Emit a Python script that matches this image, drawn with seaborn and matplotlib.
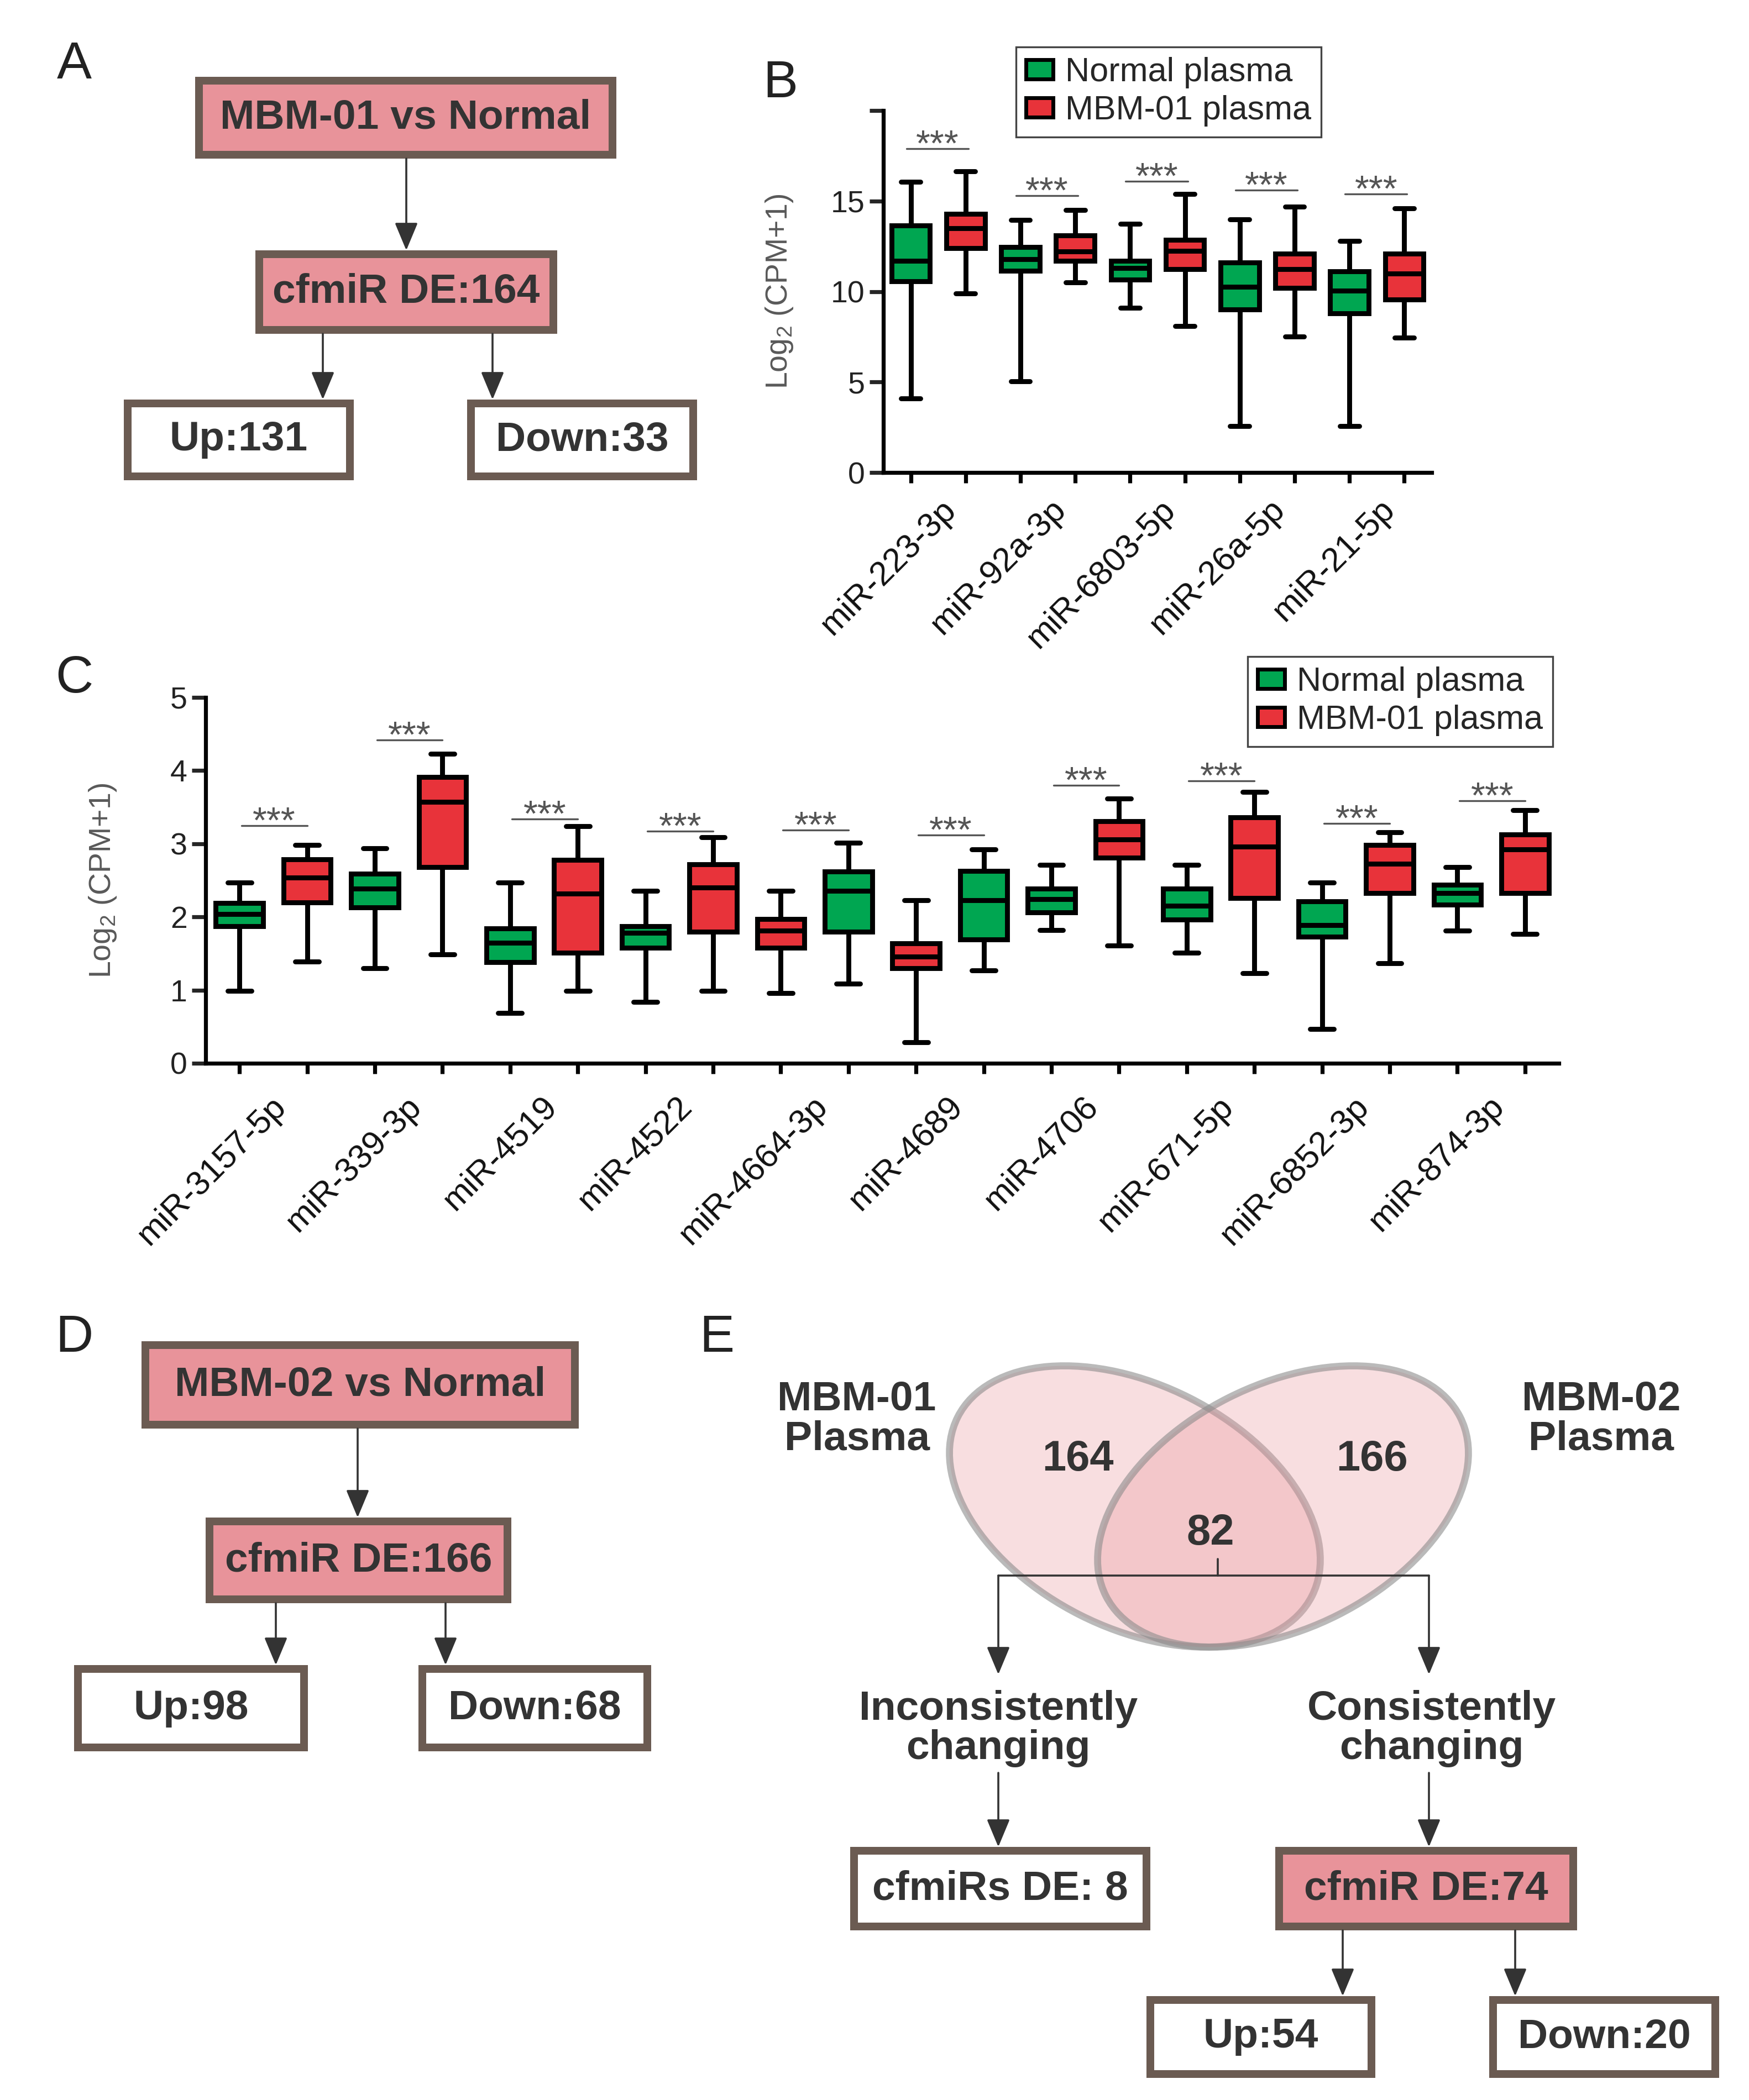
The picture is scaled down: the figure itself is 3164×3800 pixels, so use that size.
import numpy as np
import pandas as pd
import matplotlib
matplotlib.use("Agg")
import matplotlib.pyplot as plt
import seaborn as sns
from matplotlib.patches import Rectangle, Ellipse, Patch

# --- Data ---
GROUPS = ["Normal plasma", "MBM-01 plasma"]
PALETTE = {"Normal plasma": "#00A651", "MBM-01 plasma": "#E8333A"}

# Panel B : five-number summaries, box order = (Normal, MBM-01) per miRNA
b_mirs = ["miR-223-3p", "miR-92a-3p", "miR-6803-5p", "miR-26a-5p", "miR-21-5p"]
b_group = ["Normal plasma", "MBM-01 plasma"] * 5
b_low = [4.1, 9.9, 5.05, 10.5, 9.1, 8.1, 2.55, 7.5, 2.55, 7.45]
b_q1 = [10.55, 12.4, 11.15, 11.7, 10.65, 11.25, 9.0, 10.2, 8.8, 9.55]
b_med = [11.7, 13.5, 11.8, 12.2, 11.3, 12.25, 10.25, 11.25, 10.05, 11.0]
b_q3 = [13.65, 14.3, 12.45, 13.1, 11.7, 12.85, 11.6, 12.1, 11.1, 12.1]
b_high = [16.05, 16.65, 13.95, 14.5, 13.75, 15.4, 14.0, 14.7, 12.8, 14.6]
b_sig = [17.9, 15.3, 16.1, 15.6, 15.4]

# Panel C
c_mirs = ["miR-3157-5p", "miR-339-3p", "miR-4519", "miR-4522", "miR-4664-3p",
          "miR-4689", "miR-4706", "miR-671-5p", "miR-6852-3p", "miR-874-3p"]
c_group = (["Normal plasma", "MBM-01 plasma"] * 4
           + ["MBM-01 plasma", "Normal plasma"] * 2
           + ["Normal plasma", "MBM-01 plasma"] * 4)
c_low = [0.99, 1.39, 1.3, 1.49, 0.69, 0.99, 0.84, 0.99, 0.96, 1.09,
         0.29, 1.27, 1.82, 1.61, 1.51, 1.23, 0.47, 1.37, 1.81, 1.77]
c_q1 = [1.87, 2.2, 2.13, 2.68, 1.38, 1.51, 1.58, 1.8, 1.58, 1.8,
        1.3, 1.69, 2.06, 2.81, 1.96, 2.26, 1.73, 2.33, 2.17, 2.33]
c_med = [2.04, 2.54, 2.39, 3.57, 1.65, 2.32, 1.78, 2.4, 1.81, 2.36,
         1.46, 2.23, 2.24, 3.06, 2.15, 2.96, 1.89, 2.73, 2.33, 2.92]
c_q3 = [2.19, 2.79, 2.59, 3.91, 1.84, 2.78, 1.87, 2.72, 1.97, 2.62,
        1.64, 2.63, 2.39, 3.31, 2.39, 3.36, 2.21, 2.98, 2.44, 3.13]
c_high = [2.47, 2.98, 2.94, 4.23, 2.47, 3.24, 2.36, 3.09, 2.36, 3.01,
          2.23, 2.92, 2.71, 3.62, 2.71, 3.71, 2.47, 3.16, 2.68, 3.46]
c_sig = [3.25, 4.42, 3.34, 3.17, 3.19, 3.12, 3.8, 3.86, 3.28, 3.59]

# Flow charts
a_top, a_de, a_up, a_down = "MBM-01 vs Normal", "cfmiR DE:164", "Up:131", "Down:33"
d_top, d_de, d_up, d_down = "MBM-02 vs Normal", "cfmiR DE:166", "Up:98", "Down:68"
venn_left, venn_right, venn_both = "164", "166", "82"
e_incons, e_cons, e_up, e_down = "cfmiRs DE: 8", "cfmiR DE:74", "Up:54", "Down:20"

# --- Style ---
sns.set_style("ticks")
plt.rcParams["font.family"] = ["Liberation Sans", "DejaVu Sans"]
plt.rcParams["mathtext.fontset"] = "custom"
plt.rcParams["mathtext.rm"] = "Liberation Sans"

PINK = "#E8939A"
BORDER = "#6B5B52"
TXT = "#333333"

fig = plt.figure(figsize=(15.82, 19.0), dpi=200)

# overlay in pixel coordinates for the diagrams
ov = fig.add_axes([0, 0, 1, 1])
ov.set_xlim(0, 3164)
ov.set_ylim(3800, 0)
ov.axis("off")


def box(x0, y0, x1, y1, text, fill="white", fs=27):
    lw_px = 14
    ov.add_patch(Rectangle((x0 + lw_px / 2, y0 + lw_px / 2), x1 - x0 - lw_px, y1 - y0 - lw_px,
                           facecolor=fill, edgecolor=BORDER, linewidth=lw_px * 72 / 200,
                           joinstyle="miter"))
    ov.text((x0 + x1) / 2, (y0 + y1) / 2, text, ha="center", va="center",
            fontsize=fs, fontweight="bold", color=TXT)


def arrow(x, y0, y1):
    ov.annotate("", xy=(x, y1), xytext=(x, y0),
                arrowprops=dict(arrowstyle="-|>,head_length=1.2,head_width=0.5",
                                mutation_scale=13, color="#333333", lw=1.3,
                                shrinkA=0, shrinkB=0))


def letter(x, y, s):
    ov.text(x, y, s, ha="center", va="center", fontsize=34, color="#222222")


# Panel A
letter(134, 117, "A")
box(353, 139, 1115, 287, a_top, PINK)
arrow(735, 287, 453)
box(462, 453, 1008, 604, a_de, PINK)
arrow(584, 604, 723)
arrow(891, 604, 723)
box(224, 723, 640, 869, a_up)
box(845, 723, 1261, 869, a_down)

# Panel D
letter(134, 2422, "D")
box(256, 2427, 1047, 2585, d_top, PINK)
arrow(647, 2585, 2746)
box(372, 2746, 925, 2901, d_de, PINK)
arrow(499, 2901, 3013)
arrow(806, 2901, 3013)
box(134, 3013, 557, 3169, d_up)
box(757, 3013, 1178, 3169, d_down)

# Panel E
letter(1297, 2422, "E")
for cx, ang in [(2053, 26.8), (2321, -26.8)]:
    ov.add_patch(Ellipse((cx, 2726), 718, 440, angle=ang,
                         facecolor=(232 / 255, 147 / 255, 154 / 255, 0.3),
                         edgecolor=(0.55, 0.55, 0.55, 0.6), linewidth=4.6))
ov.text(1550, 2568, "MBM-01\nPlasma", ha="center", va="center", fontsize=27,
        fontweight="bold", color=TXT, linespacing=1.05)
ov.text(2897, 2568, "MBM-02\nPlasma", ha="center", va="center", fontsize=27,
        fontweight="bold", color=TXT, linespacing=1.05)
ov.text(1950, 2640, venn_left, ha="center", va="center", fontsize=28, fontweight="bold", color=TXT)
ov.text(2482, 2640, venn_right, ha="center", va="center", fontsize=28, fontweight="bold", color=TXT)
ov.text(2190, 2775, venn_both, ha="center", va="center", fontsize=28, fontweight="bold", color=TXT)
ov.plot([2203, 2203], [2821, 2851], color="#333333", lw=1.3)
ov.plot([1806, 2585], [2851, 2851], color="#333333", lw=1.3)
arrow(1806, 2851, 3030)
arrow(2585, 2851, 3030)
ov.text(1806, 3128, "Inconsistently\nchanging", ha="center", va="center", fontsize=27,
        fontweight="bold", color=TXT, linespacing=1.05)
ov.text(2590, 3128, "Consistently\nchanging", ha="center", va="center", fontsize=27,
        fontweight="bold", color=TXT, linespacing=1.05)
arrow(1806, 3208, 3342)
arrow(2585, 3208, 3342)
box(1538, 3342, 2081, 3493, e_incons)
box(2307, 3342, 2853, 3493, e_cons, PINK)
arrow(2429, 3493, 3612)
arrow(2741, 3493, 3612)
box(2074, 3612, 2488, 3760, e_up)
box(2694, 3612, 3110, 3760, e_down)

letter(1412, 151, "B")
letter(134, 1229, "C")


def box_panel(ax, mirs, groups, low, q1, med, q3, high, sig, sig_off, pad, lab_dx):
    rows = []
    for i, g in enumerate(groups):
        for v in (low[i], q1[i], med[i], q3[i], high[i]):
            rows.append({"pos": i, "value": v, "group": g})
    df = pd.DataFrame(rows)
    sns.boxplot(data=df, x="pos", y="value", hue="group", hue_order=GROUPS,
                palette=PALETTE, dodge=False, width=0.7, whis=(0, 100),
                saturation=1, linecolor="black", linewidth=3.2, showfliers=False,
                legend=False, ax=ax)
    n = len(groups)
    ax.set_xlim(-0.5, n - 0.5)
    for k, h in enumerate(sig):
        x0, x1 = 2 * k + sig_off[0], 2 * k + 1 + sig_off[1]
        ax.plot([x0, x1], [h, h], color="#555555", lw=1.2)
        ax.annotate("***", xy=((x0 + x1) / 2, h), xytext=(0, -4.5),
                    textcoords="offset points", ha="center", va="baseline",
                    fontsize=24, color="#555555")
    ax.set_xticks(range(n))
    ax.set_xticklabels([""] * n)
    ax.set_xticks([2 * k + 0.5 + lab_dx for k in range(len(mirs))], minor=True)
    ax.set_xticklabels(mirs, minor=True, rotation=45, ha="right", va="center",
                       rotation_mode="anchor", fontsize=22, color="#111111")
    ax.tick_params(axis="x", which="major", length=7, width=2.6, color="black")
    ax.tick_params(axis="x", which="minor", length=0, pad=pad)
    ax.tick_params(axis="y", length=9, width=2.6, labelsize=20, labelcolor="#222222", pad=3)
    ax.set_xlabel("")
    ax.set_ylabel(r"Log$_{\mathregular{2}}$ (CPM+1)", fontsize=20, color="#595959")
    for s in ["top", "right"]:
        ax.spines[s].set_visible(False)
    for s in ["left", "bottom"]:
        ax.spines[s].set_linewidth(2.6)
        ax.spines[s].set_color("black")


def legend(ax, anchor):
    handles = [Patch(facecolor=PALETTE[g], edgecolor="black", linewidth=2.5, label=g) for g in GROUPS]
    leg = ax.legend(handles=handles, loc="upper left", bbox_to_anchor=anchor,
                    fontsize=22, frameon=True, fancybox=False, framealpha=1,
                    edgecolor="#444444", handlelength=0.8, handleheight=0.5,
                    handletextpad=0.35, borderpad=0.3, labelspacing=0.2,
                    borderaxespad=0)
    leg.get_frame().set_linewidth(1.2)


# Panel B
axb = fig.add_axes([1598 / 3164, 1 - 855 / 3800, 992 / 3164, 655 / 3800])
box_panel(axb, b_mirs, b_group, b_low, b_q1, b_med, b_q3, b_high, b_sig,
          (-0.08, 0.05), 21, 0.24)
axb.set_ylim(0, 20)
axb.set_yticks([0, 5, 10, 15, 20])
axb.set_yticklabels(["0", "5", "10", "15", ""])
axb.yaxis.set_label_coords(-0.161, 0.5)
legend(axb, (0.242, 1.176))

# Panel C
axc = fig.add_axes([372 / 3164, 1 - 1924 / 3800, 2448 / 3164, 662 / 3800])
box_panel(axc, c_mirs, c_group, c_low, c_q1, c_med, c_q3, c_high, c_sig,
          (0.03, 0.0), 25, 0.12)
axc.set_ylim(0, 5)
axc.set_yticks([0, 1, 2, 3, 4, 5])
axc.yaxis.set_label_coords(-0.0645, 0.5)
legend(axc, (0.770, 1.112))

fig.savefig("out.png", dpi=200)
